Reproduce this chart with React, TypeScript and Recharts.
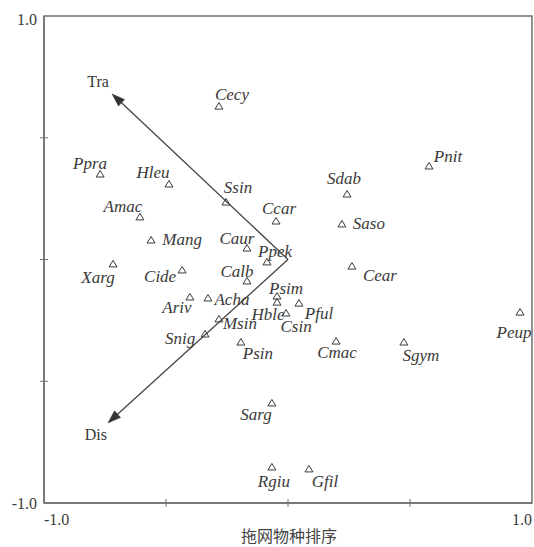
import React from 'react';
import { ScatterChart, Scatter, XAxis, YAxis, ReferenceLine, ReferenceArea } from 'recharts';

// Species scores (axis 1, axis 2)
const speciesNames = ['Cecy', 'Ppra', 'Hleu', 'Ssin', 'Amac', 'Mang', 'Caur', 'Xarg', 'Cide', 'Calb', 'Ppek', 'Ccar', 'Sdab', 'Pnit', 'Saso', 'Cear', 'Psim', 'Hble', 'Csin', 'Pful', 'Acha', 'Ariv', 'Msin', 'Snig', 'Psin', 'Cmac', 'Sgym', 'Peup', 'Sarg', 'Rgiu', 'Gfil'];
const speciesX = [-0.283, -0.770, -0.488, -0.254, -0.607, -0.561, -0.168, -0.717, -0.434, -0.168, -0.086, -0.049, 0.242, 0.578, 0.221, 0.262, -0.045, -0.045, -0.008, 0.045, -0.328, -0.402, -0.283, -0.340, -0.193, 0.197, 0.475, 0.951, -0.066, -0.066, 0.086];
const speciesY = [0.630, 0.351, 0.310, 0.236, 0.175, 0.080, 0.047, -0.018, -0.043, -0.088, -0.010, 0.158, 0.269, 0.384, 0.146, -0.027, -0.150, -0.175, -0.220, -0.179, -0.158, -0.154, -0.244, -0.306, -0.339, -0.335, -0.339, -0.216, -0.589, -0.852, -0.860];

// Environmental variable arrows
const envNames = ['Tra', 'Dis'];
const envX = [-0.721, -0.738];
const envY = [0.680, -0.671];

const axisTicks = [-1, -0.5, 0, 0.5, 1];
const axisTitle = '拖网物种排序';

// label placement (pixel offsets from the symbol) — styling only
const labelOffset: Record<string, [number, number]> = {
  Cecy: [13, -12], Ppra: [-10, -11], Hleu: [-16, -12], Ssin: [12, -15], Amac: [-17, -10],
  Mang: [31, -1], Caur: [-10, -10], Xarg: [-15, 14], Cide: [-22, 7], Calb: [-10, -9],
  Ppek: [8, -10], Ccar: [3, -13], Sdab: [-3, -15], Pnit: [19, -9], Saso: [27, 0],
  Cear: [28, 9], Psim: [9, -8], Hble: [-9, 12], Csin: [10, 13], Pful: [20, 10],
  Acha: [24, 2], Ariv: [-13, 11], Msin: [21, 5], Snig: [-25, 4], Psin: [17, 11],
  Cmac: [1, 11], Sgym: [17, 13], Peup: [-6, 20], Sarg: [-16, 12], Rgiu: [2, 15], Gfil: [16, 13],
};
const envLabelOffset: Record<string, [number, number]> = { Tra: [-14, -12], Dis: [-12, 12] };

const speciesData = speciesNames.map((name, i) => ({ name, x: speciesX[i], y: speciesY[i] }));

const FONT = '"Liberation Serif", "Times New Roman", serif';
const INK = '#3a3a3a';
const AXIS = '#707070';

const SpeciesShape = (props: any) => {
  const { cx, cy, payload } = props;
  const off = labelOffset[payload.name] || [0, -12];
  return (
    <g>
      <polygon
        points={`${cx},${cy - 3.5} ${cx - 4},${cy + 3} ${cx + 4},${cy + 3}`}
        fill="none"
        stroke={INK}
        strokeWidth={1}
      />
      <text
        x={cx + off[0]}
        y={cy + off[1]}
        textAnchor="middle"
        dominantBaseline="central"
        fontFamily={FONT}
        fontStyle="italic"
        fontSize={17}
        fill={INK}
      >
        {payload.name}
      </text>
    </g>
  );
};

const makeArrow = (name: string) => (props: any) => {
  const { x1, y1, x2, y2 } = props;
  const dx = x2 - x1;
  const dy = y2 - y1;
  const len = Math.sqrt(dx * dx + dy * dy) || 1;
  const ux = dx / len;
  const uy = dy / len;
  const head = 13;
  const half = 4.5;
  const bx = x2 - ux * head;
  const by = y2 - uy * head;
  const px = -uy;
  const py = ux;
  const off = envLabelOffset[name] || [0, 0];
  return (
    <g>
      <line x1={x1} y1={y1} x2={bx} y2={by} stroke="#444" strokeWidth={1.3} />
      <polygon
        points={`${x2},${y2} ${bx + px * half},${by + py * half} ${bx - px * half},${by - py * half}`}
        fill="#333"
        stroke="#333"
        strokeWidth={0.5}
      />
      <text
        x={x2 + off[0]}
        y={y2 + off[1]}
        textAnchor="middle"
        dominantBaseline="central"
        fontFamily={FONT}
        fontSize={16}
        fill={INK}
      >
        {name}
      </text>
    </g>
  );
};

const XTick = (props: any) => {
  const { x, y, payload } = props;
  const v = payload.value;
  let label: React.ReactNode = null;
  if (v === -1) {
    label = (
      <text x={x} y={y + 22} textAnchor="start" fontFamily={FONT} fontSize={16} fill={INK}>-1.0</text>
    );
  } else if (v === 1) {
    label = (
      <text x={x} y={y + 22} textAnchor="end" fontFamily={FONT} fontSize={16} fill={INK}>1.0</text>
    );
  }
  return (
    <g>
      {v !== -1 && v !== 1 ? <line x1={x} y1={y - 4} x2={x} y2={y + 4} stroke={AXIS} strokeWidth={1} /> : null}
      {label}
    </g>
  );
};

const YTick = (props: any) => {
  const { x, y, payload } = props;
  const v = payload.value;
  let label: React.ReactNode = null;
  if (v === -1) {
    label = (
      <text x={x - 7} y={y} textAnchor="end" dominantBaseline="central" fontFamily={FONT} fontSize={16} fill={INK}>-1.0</text>
    );
  } else if (v === 1) {
    label = (
      <text x={x - 7} y={y + 3} textAnchor="end" dominantBaseline="central" fontFamily={FONT} fontSize={16} fill={INK}>1.0</text>
    );
  }
  return (
    <g>
      {v !== -1 && v !== 1 ? <line x1={x - 4} y1={y} x2={x + 4} y2={y} stroke={AXIS} strokeWidth={1} /> : null}
      {label}
    </g>
  );
};

export default function App() {
  return (
    <div style={{ position: 'absolute', left: 0, top: 0, width: 534, height: 547, background: '#fff', overflow: 'hidden' }}>
      <ScatterChart width={534} height={547} margin={{ top: 16, right: 2, bottom: 14, left: 14 }}>
        <XAxis
          type="number"
          dataKey="x"
          domain={[-1, 1]}
          ticks={axisTicks}
          allowDataOverflow
          tickSize={0}
          tickMargin={0}
          tickLine={false}
          height={30}
          axisLine={{ stroke: AXIS, strokeWidth: 1.5 }}
          tick={<XTick />}
          interval={0}
        />
        <YAxis
          type="number"
          dataKey="y"
          domain={[-1, 1]}
          ticks={axisTicks}
          allowDataOverflow
          tickSize={0}
          tickMargin={0}
          tickLine={false}
          width={30}
          axisLine={{ stroke: AXIS, strokeWidth: 1.5 }}
          tick={<YTick />}
          interval={0}
        />
        <ReferenceArea x1={-1} x2={1} y1={-1} y2={1} fill="none" stroke={AXIS} strokeWidth={1.5} ifOverflow="visible" />
        {envNames.map((name, i) => (
          <ReferenceLine
            key={name}
            segment={[{ x: 0, y: 0 }, { x: envX[i], y: envY[i] }]}
            shape={makeArrow(name)}
            ifOverflow="visible"
          />
        ))}
        <Scatter data={speciesData} shape={SpeciesShape} isAnimationActive={false} />
      </ScatterChart>
      <div
        style={{
          position: 'absolute',
          left: 189,
          width: 200,
          top: 527,
          textAlign: 'center',
          fontFamily: '"Noto Sans CJK SC", serif',
          fontSize: 16,
          lineHeight: '17px',
          color: '#444',
          whiteSpace: 'nowrap',
        }}
      >
        {axisTitle}
      </div>
    </div>
  );
}
